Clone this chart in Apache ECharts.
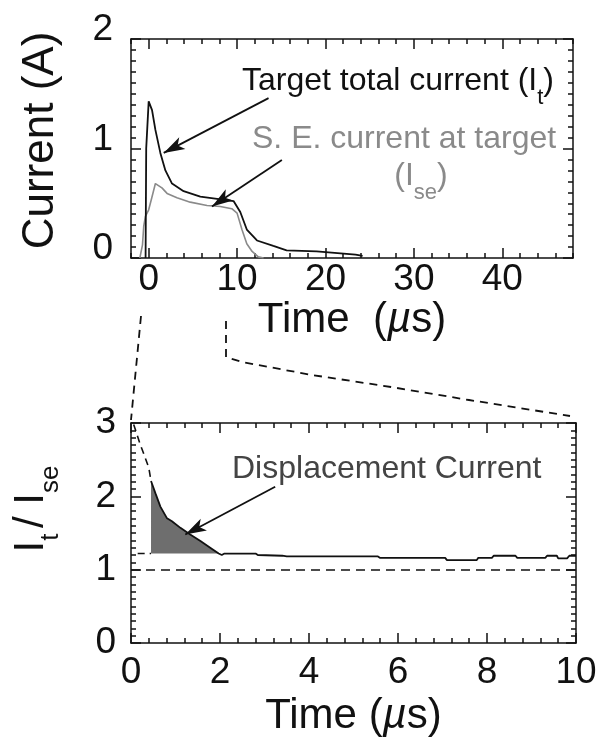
<!DOCTYPE html>
<html>
<head>
<meta charset="utf-8">
<script src="https://cdn.jsdelivr.net/npm/echarts@6/dist/echarts.min.js"></script>
<style>
    html, body { margin: 0; padding: 0; background: #fff; }
    #chart { width: 612px; height: 738px; }
</style>
</head>
<body>
<div id="chart"></div>
<script>
// 上图: 总电流 It 与二次电子电流 Ise (A), 时间 µs
var itTime = [-0.35, -0.3, -0.28, 0, 0.38, 0.76, 1.32, 1.89, 2.64, 3.95, 5.84, 7.73, 9.6, 10.36, 11.1, 12.25, 14.1, 15.6, 19, 23.4, 24.2];
var itCurrent = [0, 0, 1.0, 1.43, 1.35, 1.17, 0.96, 0.80, 0.68, 0.61, 0.56, 0.54, 0.52, 0.42, 0.26, 0.16, 0.11, 0.07, 0.06, 0.03, 0.02];
var iseTime = [-1.0, -0.7, -0.56, -0.37, 0, 0.38, 0.76, 0.9, 1.5, 2.08, 3.2, 4.7, 6.6, 8.1, 9.4, 10.0, 10.55, 11.1, 11.7, 12.4, 13];
var iseCurrent = [0, 0.12, 0.29, 0.38, 0.44, 0.56, 0.68, 0.68, 0.64, 0.59, 0.55, 0.51, 0.48, 0.47, 0.45, 0.41, 0.26, 0.13, 0.06, 0.01, 0];
var topTickLabels = [0, 10, 20, 30, 40];

// 下图: It / Ise
var ratioTime = [0.45, 0.55, 0.66, 0.81, 0.92, 1.11, 1.33, 1.56, 1.78, 1.97, 2.04, 2.1, 2.8, 2.85, 3.4, 3.5, 5.55, 5.6, 7.06, 7.1, 7.77, 7.8, 8.11, 8.15, 8.64, 8.68, 9.31, 9.35, 9.57, 9.6, 9.8, 9.85, 10];
var ratioValue = [2.21, 2.04, 1.86, 1.70, 1.66, 1.57, 1.48, 1.39, 1.30, 1.22, 1.20, 1.22, 1.22, 1.20, 1.19, 1.18, 1.18, 1.16, 1.16, 1.13, 1.13, 1.16, 1.16, 1.19, 1.19, 1.16, 1.16, 1.19, 1.19, 1.155, 1.155, 1.19, 1.19];
var extTime = [0.06, 0.2, 0.28, 0.4, 0.45];
var extValue = [2.98, 2.72, 2.59, 2.39, 2.21];
var baseTime = [0.15, 0.45];
var baseValue = [1.22, 1.22];
var displacementBase = 1.22;

var FONT = "'Liberation Sans', Arial, Helvetica, sans-serif";
var INK = '#111';
var GREY = '#8a8a8a';

let zip = (xs, ys) => xs.map((x, i) => [x, ys[i]]);

let lineStyle = { color: INK, width: 1.5 };

// 轴 (画框的四边), 短刻度
let frameAxis = (extra) => Object.assign({
    type: 'value',
    axisLine: { show: true, onZero: false, lineStyle: lineStyle },
    axisTick: { show: true, inside: true, length: 5, lineStyle: lineStyle },
    axisLabel: { show: false },
    splitLine: { show: false }
}, extra);

// 长刻度 (不画轴线)
let majorTicks = (extra) => Object.assign({
    type: 'value',
    axisLine: { show: false, onZero: false },
    axisTick: { show: true, inside: true, length: 10, lineStyle: lineStyle },
    axisLabel: { show: false },
    splitLine: { show: false }
}, extra);

let timeName = (text) => ({
    name: text, nameLocation: 'middle',
    nameTextStyle: {
        rich: {
            a: { fontSize: 42, fontFamily: FONT, color: INK, lineHeight: 42 },
            i: { fontSize: 42, fontFamily: FONT, color: INK, lineHeight: 42, fontStyle: 'italic' }
        }
    }
});

let chart = echarts.init(document.getElementById('chart'));

let displacement = zip(ratioTime, ratioValue).filter(p => p[1] >= displacementBase);

let arrowLine = (from, to) => ({
    silent: true, label: { show: false }, symbol: ['none', 'arrow'],
    lineStyle: { color: INK, width: 1.8, type: 'solid' },
    data: [[{ coord: from }, { coord: to, symbolSize: [10, 21] }]]
});

let option = {
    animation: false,
    grid: [
        { left: 131, top: 39, width: 442, height: 219 },
        { left: 131, top: 423, width: 445, height: 221 }
    ],
    xAxis: [
        // 上图
        frameAxis({ gridIndex: 0, position: 'bottom', min: -2, max: 48, interval: 2 }),
        majorTicks(Object.assign({
            gridIndex: 0, position: 'bottom', min: -2, max: 48,
            axisTick: { show: true, inside: true, length: 10, customValues: topTickLabels, lineStyle: lineStyle },
            axisLabel: { show: true, customValues: topTickLabels, fontSize: 37, color: INK, fontFamily: FONT, margin: 3 },
            nameGap: 41
        }, timeName('{a|Time  (}{i|µ}{a|s)}'))),
        frameAxis({ gridIndex: 0, position: 'top', min: -2, max: 48, interval: 2 }),
        majorTicks({
            gridIndex: 0, position: 'top', min: -2, max: 48,
            axisTick: { show: true, inside: true, length: 10, customValues: topTickLabels, lineStyle: lineStyle }
        }),
        // 下图
        frameAxis(Object.assign({
            gridIndex: 1, position: 'bottom', min: 0, max: 10, interval: 2,
            axisTick: { show: true, inside: true, length: 10, lineStyle: lineStyle },
            minorTick: { show: true, splitNumber: 5, length: 5, lineStyle: lineStyle },
            axisLabel: { show: true, fontSize: 37, color: INK, fontFamily: FONT, margin: 11 },
            nameGap: 52
        }, timeName('{a|Time (}{i|µ}{a|s)}'))),
        frameAxis({
            gridIndex: 1, position: 'top', min: 0, max: 10, interval: 2,
            axisTick: { show: true, inside: true, length: 10, lineStyle: lineStyle },
            minorTick: { show: true, splitNumber: 5, length: 5, lineStyle: lineStyle }
        })
    ],
    yAxis: [
        // 上图
        frameAxis({ gridIndex: 0, position: 'left', min: 0, max: 2, interval: 0.1 }),
        majorTicks({
            gridIndex: 0, position: 'left', min: 0, max: 2, interval: 1,
            axisLabel: { show: true, fontSize: 37, color: INK, fontFamily: FONT, margin: 18, verticalAlign: 'bottom', lineHeight: 18 },
            name: 'Current (A)', nameLocation: 'middle', nameGap: 68, nameRotate: 90,
            nameTextStyle: { fontSize: 44, fontFamily: FONT, color: INK, padding: [0, 0, 0, 16] }
        }),
        frameAxis({ gridIndex: 0, position: 'right', min: 0, max: 2, interval: 0.1 }),
        majorTicks({ gridIndex: 0, position: 'right', min: 0, max: 2, interval: 1 }),
        // 下图
        frameAxis({
            gridIndex: 1, position: 'left', min: 0, max: 3, interval: 1,
            axisTick: { show: true, inside: true, length: 10, lineStyle: lineStyle },
            minorTick: { show: true, splitNumber: 10, length: 5, lineStyle: lineStyle },
            axisLabel: { show: true, fontSize: 37, color: INK, fontFamily: FONT, margin: 15 },
            name: '{m|I}{s|t}{g| }{m|/ I}{s|se}', nameLocation: 'middle', nameGap: 67, nameRotate: 90,
            nameTextStyle: {
                padding: [0, 0, 0, 48],
                rich: {
                    m: { fontSize: 42, fontFamily: FONT, color: INK, lineHeight: 66 },
                    g: { fontSize: 20, fontFamily: FONT, color: INK, lineHeight: 20 },
                    s: { fontSize: 26, fontFamily: FONT, color: INK, lineHeight: 26, verticalAlign: 'bottom' }
                }
            }
        }),
        frameAxis({
            gridIndex: 1, position: 'right', min: 0, max: 3, interval: 1,
            axisTick: { show: true, inside: true, length: 10, lineStyle: lineStyle },
            minorTick: { show: true, splitNumber: 10, length: 5, lineStyle: lineStyle }
        })
    ],
    series: [
        {
            name: 'It', type: 'line', xAxisIndex: 0, yAxisIndex: 0,
            data: zip(itTime, itCurrent), showSymbol: false, symbol: 'none',
            lineStyle: { color: INK, width: 1.8 }, z: 3,
            markLine: arrowLine([13.56, 1.46], [1.7, 0.96])
        },
        {
            name: 'Ise', type: 'line', xAxisIndex: 0, yAxisIndex: 0,
            data: zip(iseTime, iseCurrent), showSymbol: false, symbol: 'none',
            lineStyle: { color: GREY, width: 1.6 }, z: 2,
            markLine: arrowLine([15.07, 0.895], [7.16, 0.47])
        },
        {
            name: 'displacement', type: 'line', xAxisIndex: 4, yAxisIndex: 4,
            data: displacement, showSymbol: false, symbol: 'none',
            lineStyle: { width: 0, opacity: 0 },
            areaStyle: { color: '#6e6e6e', opacity: 1, origin: displacementBase }, z: 1
        },
        {
            name: 'ratio', type: 'line', xAxisIndex: 4, yAxisIndex: 4,
            data: zip(ratioTime, ratioValue), showSymbol: false, symbol: 'none',
            lineStyle: { color: INK, width: 1.8 }, z: 3,
            markLine: arrowLine([3.24, 2.13], [1.22, 1.48])
        },
        {
            name: 'ratioExt', type: 'line', xAxisIndex: 4, yAxisIndex: 4,
            data: zip(extTime, extValue), showSymbol: false, symbol: 'none',
            lineStyle: { color: INK, width: 1.6, type: [7, 5] }, z: 3,
            markLine: {
                silent: true, label: { show: false }, symbol: 'none',
                lineStyle: { color: INK, width: 1.6, type: [9, 6] },
                data: [{ yAxis: 1 }]
            }
        },
        {
            name: 'base', type: 'line', xAxisIndex: 4, yAxisIndex: 4,
            data: zip(baseTime, baseValue), showSymbol: false, symbol: 'none',
            lineStyle: { color: INK, width: 1.6, type: [7, 5] }, z: 3
        }
    ],
    graphic: [
        {
            type: 'text', x: 242, y: 53,
            style: {
                text: '{m|Target total current (I}{s|t}{m|)}',
                align: 'left', textAlign: 'left', verticalAlign: 'top', textVerticalAlign: 'top',
                rich: {
                    m: { fontSize: 32, fontFamily: FONT, fill: INK, lineHeight: 56 },
                    s: { fontSize: 22, fontFamily: FONT, fill: INK, lineHeight: 22, verticalAlign: 'bottom' }
                }
            }
        },
        {
            type: 'text', x: 252, y: 139,
            style: {
                text: 'S. E. current at target', fontSize: 32, fontFamily: FONT, fill: GREY,
                align: 'left', textAlign: 'left', verticalAlign: 'middle', textVerticalAlign: 'middle'
            }
        },
        {
            type: 'text', x: 421, y: 148,
            style: {
                text: '{m|(I}{s|se}{m|)}',
                align: 'center', textAlign: 'center', verticalAlign: 'top', textVerticalAlign: 'top',
                rich: {
                    m: { fontSize: 32, fontFamily: FONT, fill: GREY, lineHeight: 56 },
                    s: { fontSize: 22, fontFamily: FONT, fill: GREY, lineHeight: 22, verticalAlign: 'bottom' }
                }
            }
        },
        {
            type: 'text', x: 232, y: 469,
            style: {
                text: 'Displacement Current', fontSize: 32, fontFamily: FONT, fill: '#444',
                align: 'left', textAlign: 'left', verticalAlign: 'middle', textVerticalAlign: 'middle'
            }
        },
        // 放大区域的虚线示意
        {
            type: 'polyline',
            shape: { points: [[141, 316], [131, 420]] },
            style: { stroke: INK, lineWidth: 1.8, lineDash: [8, 6], fill: null }
        },
        {
            type: 'polyline',
            shape: { points: [[226, 321], [226, 357], [242, 362], [312, 375], [391, 387], [469, 400], [570, 416]] },
            style: { stroke: INK, lineWidth: 1.8, lineDash: [8, 6], fill: null }
        }
    ]
};

chart.setOption(option);
</script>
</body>
</html>
